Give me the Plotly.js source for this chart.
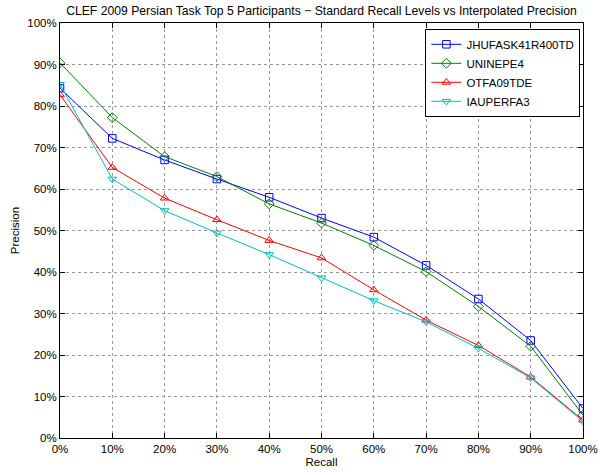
<!DOCTYPE html>
<html><head><meta charset="utf-8">
<script src="https://cdn.plot.ly/plotly-3.0.1.min.js"></script>
<style>body{margin:0;background:#fff}#chart{width:598px;height:472px}</style>
</head><body><div id="chart"></div>
<script>
const recall = [0, 10, 20, 30, 40, 50, 60, 70, 80, 90, 100];
const names = ["JHUFASK41R400TD", "UNINEPE4", "OTFA09TDE", "IAUPERFA3"];
const jhu   = [84.3, 72.2, 67.0, 62.4, 58.0, 53.0, 48.4, 41.6, 33.5, 23.5, 7.1];
const unine = [90.4, 77.2, 67.8, 63.0, 56.4, 51.8, 46.4, 40.1, 31.7, 22.1, 5.5];
const otfa  = [82.7, 65.2, 57.8, 52.6, 47.6, 43.4, 35.7, 28.4, 22.3, 14.7, 4.3];
const iau   = [85.2, 62.4, 54.8, 49.4, 44.2, 38.6, 33.1, 28.0, 21.6, 14.5, 4.0];
const tickVals = [0, 10, 20, 30, 40, 50, 60, 70, 80, 90, 100];
const tickText = tickVals.map(v => v + "%");

const series = [jhu, unine, otfa, iau];
const colors = ["#0000ff", "#008000", "#ff0000", "#00bfbf"];
const symbols = ["square-open", "diamond-open", "triangle-up-open", "triangle-down-open"];
const traces = series.map((s, i) => ({
  x: recall, y: s, name: names[i], type: "scatter", mode: "lines+markers",
  line: {color: colors[i], width: 1},
  marker: {symbol: symbols[i], size: 7.5, color: colors[i], line: {width: 1, color: colors[i]}}
}));

const axisCommon = {
  range: [0, 100], tickvals: tickVals, ticktext: tickText,
  showline: true, linecolor: "#000", linewidth: 1, mirror: "ticks",
  ticks: "inside", ticklen: 5, tickcolor: "#000",
  showgrid: true, gridcolor: "#999", griddash: "dot", gridwidth: 1,
  zeroline: false, tickfont: {size: 11.5, color: "#000"},
  ticklabeloverflow: "allow"
};

const layout = {
  width: 598, height: 472,
  margin: {l: 60, r: 15, t: 23, b: 34},
  paper_bgcolor: "#fff", plot_bgcolor: "#fff",
  font: {family: "Liberation Sans, Arial, sans-serif", size: 11.5, color: "#000"},
  title: {text: "CLEF 2009 Persian Task Top 5 Participants \u2212 Standard Recall Levels vs Interpolated Precision",
          font: {size: 12.2, color: "#000"}, x: 0.5, xref: "paper", y: 0.978, yref: "container", yanchor: "middle"},
  xaxis: Object.assign({}, axisCommon, {title: {text: "Recall", font: {size: 11.5}, standoff: 4}}),
  yaxis: Object.assign({}, axisCommon, {title: {text: "Precision", font: {size: 11.5}, standoff: 5}}),
  showlegend: true,
  legend: {x: 0.995, xanchor: "right", y: 0.986, yanchor: "top", bgcolor: "#fff",
           bordercolor: "#000", borderwidth: 1, font: {size: 11.5, color: "#000"}, tracegroupgap: 0}
};
Plotly.newPlot("chart", traces, layout, {displayModeBar: false, staticPlot: true});
</script></body></html>
